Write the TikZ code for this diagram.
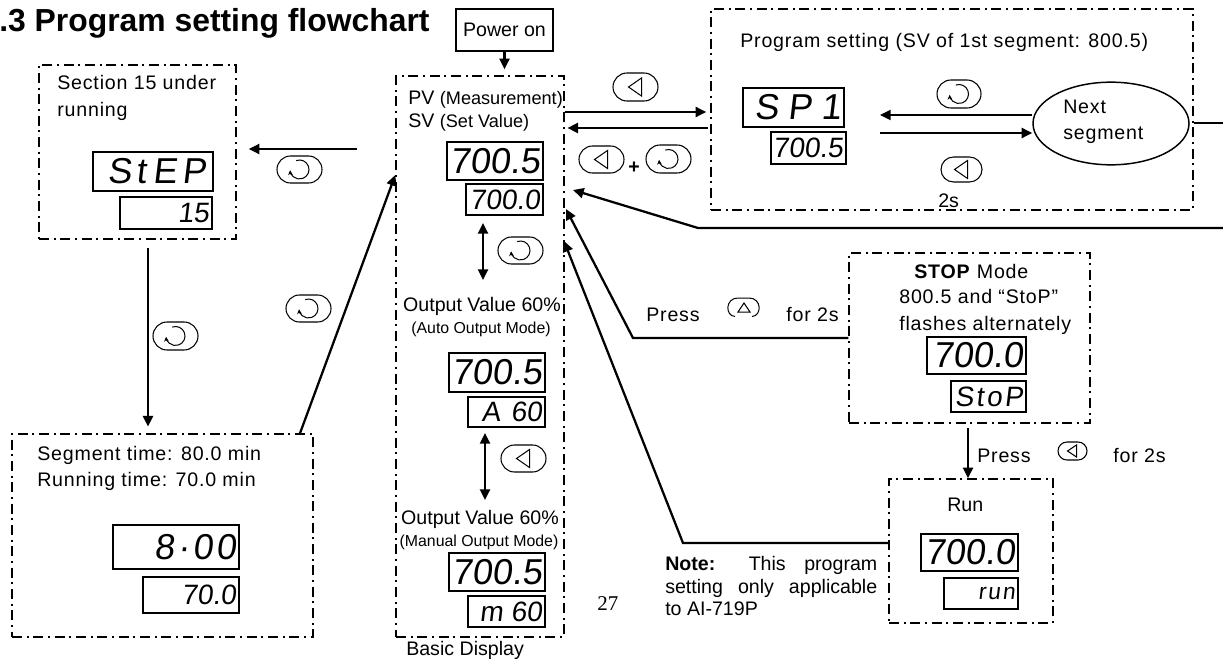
\documentclass[tikz,border=0pt]{standalone}
\usepackage{fontspec}
\setmainfont{Liberation Sans}
\newfontfamily\widef[LetterSpace=4.2]{Liberation Sans}
\newfontfamily\segfont[FakeSlant=0.12]{Liberation Sans}
\newfontfamily\segwide[FakeSlant=0.12,LetterSpace=9]{Liberation Sans}
\newfontfamily\pagefont{Liberation Serif}
\usetikzlibrary{arrows.meta,shapes.misc,shapes.geometric}
\tikzset{
  dashbox/.style={draw,line width=1.1pt,dash pattern=on 7.5pt off 3.5pt on 1.5pt off 3.5pt,rectangle,inner sep=0pt},
  disp/.style={draw,line width=1.1pt,rectangle,inner sep=0pt,anchor=center},
  arr/.style={line width=1.7pt,-{Stealth[length=8pt,width=7.5pt,inset=0pt]}},
  dblarr/.style={line width=1.7pt,{Stealth[length=8pt,width=7.5pt,inset=0pt]}-{Stealth[length=8pt,width=7.5pt,inset=0pt]}},
  btn/.style={draw,line width=.8pt,rounded rectangle,inner sep=0pt},
  icon/.style={line width=.75pt},
  lab/.style={anchor=base west,inner sep=0pt,font=\fontsize{14.7}{18}\selectfont},
  labw/.style={anchor=base west,inner sep=0pt,font=\fontsize{14.7}{18}\widef},
  labc/.style={anchor=base,inner sep=0pt,font=\fontsize{14.7}{18}\selectfont},
}
% #1 name, #2 x1, #3 y1, #4 x2, #5 y2
\newcommand\FlowBox[5]{%
  \pgfmathsetmacro\bw{(#4-#2)*0.75}\pgfmathsetmacro\bh{(#5-#3)*0.75}%
  \pgfmathsetmacro\bx{(#2+#4)/2}\pgfmathsetmacro\by{(#3+#5)/2}%
  \node[dashbox,minimum width=\bw pt,minimum height=\bh pt] (#1) at (\bx,\by) {};}
% #6 font size in pt, #7 text
\newcommand\Disp[7]{%
  \pgfmathsetmacro\bw{(#4-#2)*0.75}\pgfmathsetmacro\bh{(#5-#3)*0.75}%
  \pgfmathsetmacro\tw{(#4-#2)*0.75-4.5}%
  \pgfmathsetmacro\bx{(#2+#4)/2}\pgfmathsetmacro\by{(#3+#5)/2}%
  \node[disp,minimum width=\bw pt,minimum height=\bh pt] (#1) at (\bx,\by)
    {\makebox[\tw pt][r]{\fontsize{#6}{#6}\segfont #7}};}
% #1 name, #2 cx, #3 cy, #4 w, #5 h
\newcommand\BackBtn[5]{%
  \pgfmathsetmacro\bw{#4*0.75}\pgfmathsetmacro\bh{#5*0.75}%
  \node[btn,minimum width=\bw pt,minimum height=\bh pt] (#1) at (#2,#3) {};
  \draw[icon] ([shift={(-7,0)}]#1.center) -- ([shift={(6,-9)}]#1.center) -- ([shift={(6,9)}]#1.center) -- cycle;}
\newcommand\CycleBtn[5]{%
  \pgfmathsetmacro\bw{#4*0.75}\pgfmathsetmacro\bh{#5*0.75}%
  \node[btn,minimum width=\bw pt,minimum height=\bh pt] (#1) at (#2,#3) {};
  \draw[icon,-{Stealth[length=3.5pt,width=3.5pt]}] ([shift={(-110:9.5)}]#1.center) arc[start angle=-110,delta angle=285,radius=9.5];}
\begin{document}
\begin{tikzpicture}[x=0.75pt,y=-0.75pt]
\useasboundingbox (0,0) rectangle (1223,659);
% title
\node[lab,font=\fontsize{23.9}{28}\selectfont\bfseries] (title) at (-1,32) {.3 Program setting flowchart};
% boxes
\node[draw,line width=1.1pt,rectangle,inner sep=0pt,minimum width=72.75pt,minimum height=31.5pt] (pwr) at (504.5,30) {\fontsize{14.7}{18}\selectfont Power on};
\FlowBox{main}{396}{76}{564}{637}
\FlowBox{sect}{39}{65}{236}{239}
\FlowBox{segm}{12}{434}{313}{637}
\FlowBox{prog}{711}{9}{1193}{210}
\FlowBox{stop}{849}{253}{1090}{423}
\FlowBox{runb}{889}{479}{1053}{623}
% displays
\Disp{d1a}{447}{142}{543}{180}{27}{700.5}
\Disp{d1b}{466}{184}{543}{215}{21}{700.0}
\Disp{d2a}{449}{353}{545}{392}{27}{700.5}
\Disp{d2b}{468}{397}{545}{427}{21}{A\kern8pt 60}
\Disp{d3a}{449}{553}{545}{591}{27}{700.5}
\Disp{d3b}{468}{596}{545}{627}{21}{m\kern6pt 60}
\Disp{d4a}{93}{152}{213}{191}{27}{S\kern3.5pt t\kern5pt E\kern4pt P\kern3pt}
\Disp{d4b}{120}{197}{212}{229}{21}{15}
\Disp{d5a}{113}{525}{239}{569}{27}{\segwide 8·00}
\Disp{d5b}{143}{577}{239}{613}{21}{70.0}
\Disp{d6a}{743}{88}{844}{127}{27}{S\kern7pt P\kern7pt 1}
\Disp{d6b}{771}{132}{846}{164}{21}{700.5}
\Disp{d7a}{927}{337}{1026}{374}{27}{700.0}
\Disp{d7b}{951}{381}{1026}{412}{21}{\segwide StoP}
\Disp{d8a}{921}{534}{1018}{571}{27}{700.0}
\Disp{d8b}{944}{578}{1018}{609}{17}{\segwide run}
% ellipse
\node[draw,line width=1.1pt,ellipse,inner sep=0pt,minimum width=117pt,minimum height=62pt] (next) at (1111,123.5) {};
% buttons
\BackBtn{b1}{635.5}{87}{45}{28}
\BackBtn{b2}{601.5}{159.5}{45}{27}
\CycleBtn{c1}{668.5}{159}{45}{28}
\CycleBtn{c2}{520.5}{250.5}{45}{27}
\BackBtn{b3}{523.5}{458.5}{45}{27}
\CycleBtn{c3}{299.5}{169.5}{45}{27}
\CycleBtn{c4}{308.5}{308.5}{45}{27}
\CycleBtn{c5}{175.5}{336}{45}{28}
\CycleBtn{c6}{959}{94}{44}{28}
\BackBtn{b4}{961.5}{169.5}{41}{25}
% small buttons beside Press
\draw[icon] (735,316.5) .. controls (725,316) and (725,298) .. (738,298) -- (749,298) .. controls (762,298) and (762,316) .. (752,316.5);
\draw[icon] (744,303) -- (738,312) -- (750,312) -- cycle;
\node[btn,minimum width=21.75pt,minimum height=13.5pt] (b5) at (1072.5,451) {};
\draw[icon] ([shift={(-5,0)}]b5.center) -- ([shift={(4,-6)}]b5.center) -- ([shift={(4,6)}]b5.center) -- cycle;
% connectors
\draw[arr] (pwr.south) -- ([yshift=4.5pt]pwr.south |- main.north);
\draw[arr] (main.east |- 0,112) -- ([xshift=-3pt]prog.west |- 0,112);
\draw[arr] ([xshift=-2pt]prog.west |- 0,128) -- ([xshift=2pt]main.east |- 0,128);
\draw[arr] ([xshift=-29pt]main.west |- 0,149) -- ([xshift=9pt]sect.east |- 0,149);
\draw[arr] ([yshift=-6pt]sect.south -| 148,0) -- ([yshift=5pt]segm.north -| 148,0);
\draw[arr] (segm.north -| 300,0) -- (main.west |- 0,175);
\draw[arr] (1223,228) -- (698,228) -- (573,190);
\draw[line width=1.5pt] (prog.east |- next) -- (1223,123.5);
\draw[arr] (stop.west |- 0,338) -- (633,338) -- (566,209);
\draw[arr] (runb.west |- 0,543) -- (683,543) -- (564,241);
\draw[arr] ([yshift=-3pt]stop.south -| 968,0) -- (runb.north -| 968,0);
\draw[dblarr] (483,223) -- (483,280);
\draw[dblarr] (485,433) -- (485,500);
\draw[arr] (next.west |- 0,115) -- (880,115);
\draw[arr] (880,133) -- (next.west |- 0,133);
% labels
\node[lab] (pvl) at (408,105) {PV {\fontsize{13.6}{16}\selectfont (Measurement)}};
\node[lab] (svl) at (408,128) {SV {\fontsize{13.6}{16}\selectfont (Set Value)}};
\node[labc] (ov1) at (482,311) {Output Value 60\%};
\node[labc,font=\fontsize{11.9}{14}\selectfont] (ov1b) at (481,333) {(Auto Output Mode)};
\node[labc] (ov2) at (480,524) {Output Value 60\%};
\node[labc,font=\fontsize{11.9}{14}\selectfont] (ov2b) at (479,546) {(Manual Output Mode)};
\node[lab] (basic) at (406,655) {Basic Display};
\node[lab,font=\fontsize{15.75}{18}\selectfont\pagefont] (pageno) at (597,610) {27};
\node[labw] (s1) at (57,90) {Section 15 under};
\node[labw] (s2) at (57,117) {running};
\node[labw] (g1) at (37,460) {Segment time: 80.0 min};
\node[labw] (g2) at (37,486) {Running time: 70.0 min};
\node[labw] (p1) at (740,48) {Program setting (SV of 1st segment: 800.5)};
\node[labw] (n1) at (1063,114) {Next};
\node[labw] (n2) at (1063,140) {segment};
\node[lab] (t2s) at (938,208) {2s};
\node[labc] (plus) at (634,174) {\bfseries +};
\node[labw] (st1) at (914,278) {\textbf{STOP} Mode};
\node[labw] (st2) at (899,303) {800.5 and “StoP”};
\node[labw] (st3) at (899,330) {flashes alternately};
\node[labw] (pr1) at (646,321) {Press};
\node[labw] (pr2) at (786,321) {for 2s};
\node[labw] (pr3) at (977,462) {Press};
\node[labw] (pr4) at (1113,462) {for 2s};
\node[lab] (runl) at (947,511) {Run};
\node[anchor=north west,inner sep=0pt,align=left,font=\fontsize{14.7}{17}\selectfont] (note) at (665,556) {\makebox[159pt][s]{\textbf{Note:} This program}\\\makebox[159pt][s]{setting only applicable}\\to AI-719P};
\end{tikzpicture}
\end{document}
